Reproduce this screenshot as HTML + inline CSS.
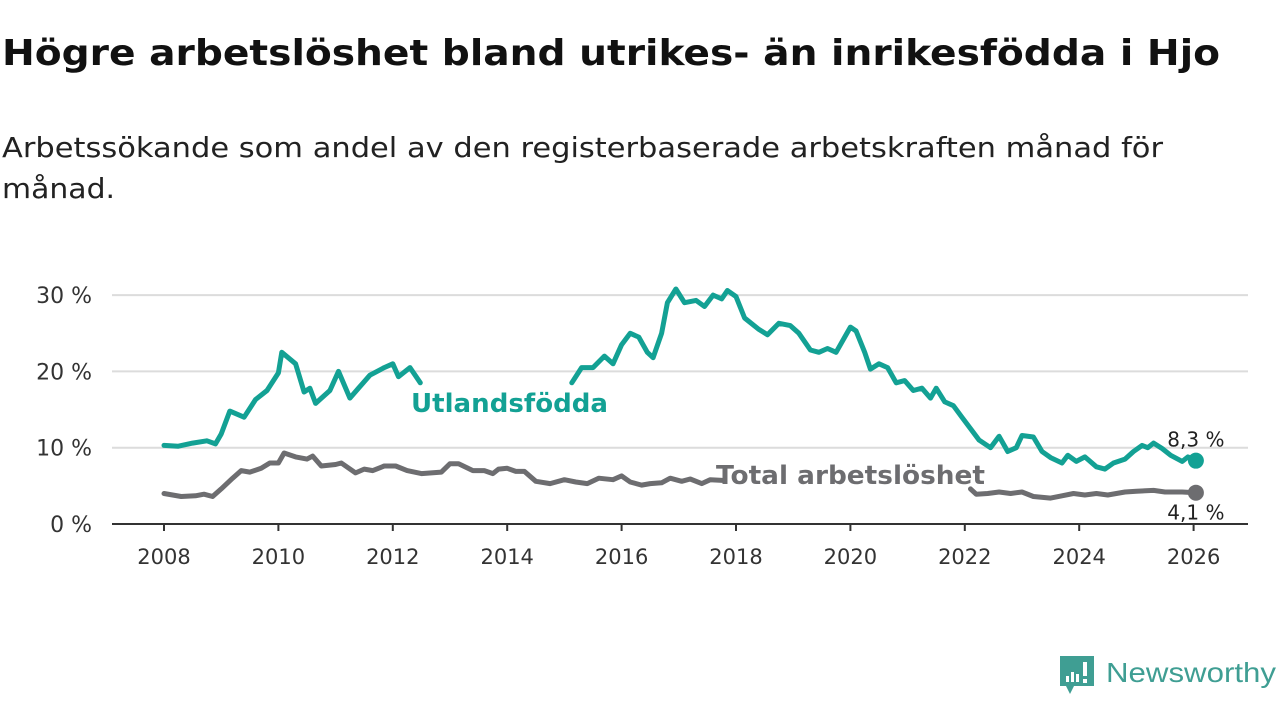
<!DOCTYPE html>
<html><head><meta charset="utf-8">
<style>
body{margin:0;width:1280px;height:720px;background:#fff;overflow:hidden;font-family:"DejaVu Sans","Liberation Sans",sans-serif;}
</style></head>
<body>
<svg id="chart" width="1280" height="720" xmlns="http://www.w3.org/2000/svg" font-family="DejaVu Sans, Liberation Sans, sans-serif">
<text x="2" y="65" font-size="36" font-weight="bold" fill="#111" textLength="1218" lengthAdjust="spacingAndGlyphs">Högre arbetslöshet bland utrikes- än inrikesfödda i Hjo</text>
<text font-size="28" fill="#222"><tspan x="2" y="157" textLength="1161" lengthAdjust="spacingAndGlyphs">Arbetssökande som andel av den registerbaserade arbetskraften månad för</tspan><tspan x="2" y="198" textLength="113" lengthAdjust="spacingAndGlyphs">månad.</tspan></text>
<g id="grid"></g><g id="lines"></g>
<g>
<path d="M1060 656 h34 v30 h-20 l-4 8 l-4 -8 h-6 z" fill="#3f9e93"/>
<rect x="1066" y="676" width="3" height="6" fill="#fff"/><rect x="1071" y="672" width="3" height="10" fill="#fff"/><rect x="1076" y="674" width="3" height="8" fill="#fff"/><rect x="1083" y="662" width="4" height="14" fill="#fff"/><rect x="1083" y="679" width="4" height="4" fill="#fff"/>
<text x="1106" y="682" font-size="28" fill="#3f9e93" font-family="Liberation Sans, sans-serif" textLength="170" lengthAdjust="spacingAndGlyphs">Newsworthy</text>
</g>
</svg>
<script>
const tealYears=[2008,2008.25,2008.5,2008.75,2008.9,2009,2009.15,2009.4,2009.6,2009.8,2010,2010.06,2010.3,2010.45,2010.55,2010.65,2010.9,2011.05,2011.25,2011.4,2011.6,2011.85,2012,2012.1,2012.3,2012.48,null,2015.13,2015.3,2015.5,2015.7,2015.85,2016,2016.15,2016.3,2016.45,2016.55,2016.7,2016.8,2016.95,2017.1,2017.3,2017.45,2017.6,2017.75,2017.85,2018,2018.15,2018.4,2018.55,2018.75,2018.95,2019.1,2019.3,2019.45,2019.6,2019.75,2019.9,2020,2020.1,2020.25,2020.35,2020.5,2020.65,2020.8,2020.95,2021.1,2021.25,2021.4,2021.5,2021.65,2021.8,2021.95,2022.1,2022.25,2022.45,2022.6,2022.75,2022.9,2023,2023.2,2023.35,2023.5,2023.7,2023.8,2023.95,2024.1,2024.3,2024.45,2024.6,2024.8,2024.95,2025.1,2025.2,2025.3,2025.45,2025.6,2025.8,2025.9,2026.04];
const tealValues=[10.3,10.2,10.6,10.9,10.5,11.8,14.8,14.0,16.3,17.5,19.8,22.5,21,17.3,17.8,15.8,17.5,20.0,16.5,17.8,19.5,20.5,21,19.3,20.5,18.5,null,18.5,20.5,20.5,22.0,21,23.5,25,24.5,22.5,21.8,25,29,30.8,29,29.3,28.5,30,29.5,30.6,29.8,27,25.5,24.8,26.3,26,25,22.8,22.5,23,22.5,24.5,25.8,25.3,22.5,20.3,21,20.5,18.5,18.8,17.5,17.8,16.5,17.8,16,15.5,14,12.5,11,10,11.5,9.5,10,11.6,11.4,9.5,8.7,8,9,8.2,8.8,7.5,7.2,8,8.5,9.5,10.3,10,10.6,9.9,9,8.2,8.8,8.3];
const grayYears=[2008,2008.3,2008.55,2008.7,2008.85,2009,2009.2,2009.35,2009.5,2009.7,2009.85,2010,2010.1,2010.3,2010.5,2010.6,2010.75,2011,2011.1,2011.35,2011.5,2011.65,2011.85,2012.05,2012.25,2012.5,2012.85,2013,2013.15,2013.4,2013.6,2013.75,2013.85,2014,2014.15,2014.3,2014.5,2014.75,2015,2015.2,2015.4,2015.6,2015.85,2016,2016.15,2016.35,2016.5,2016.7,2016.85,2017.05,2017.2,2017.4,2017.55,2017.8,null,2022.1,2022.2,2022.4,2022.6,2022.8,2023,2023.2,2023.5,2023.7,2023.9,2024.1,2024.3,2024.5,2024.8,2025,2025.3,2025.5,2025.8,2026.04];
const grayValues=[4.0,3.6,3.7,3.9,3.6,4.6,6.0,7.0,6.8,7.3,8.0,8.0,9.3,8.8,8.5,8.9,7.6,7.8,8.0,6.7,7.2,7.0,7.6,7.6,7.0,6.6,6.8,7.9,7.9,7.0,7.0,6.6,7.2,7.3,6.9,6.9,5.6,5.3,5.8,5.5,5.3,6.0,5.8,6.3,5.5,5.1,5.3,5.4,6,5.6,5.9,5.3,5.8,5.7,null,4.6,3.9,4.0,4.2,4.0,4.2,3.6,3.4,3.7,4.0,3.8,4.0,3.8,4.2,4.3,4.4,4.2,4.2,4.1];
const yTicks=[0,10,20,30];
const xTicks=[2008,2010,2012,2014,2016,2018,2020,2022,2024,2026];
const NS='http://www.w3.org/2000/svg';
const X=y=>164+(y-2008)*57.2;
const Y=v=>524-v*7.63;
function mk(tag,attrs,parent){const e=document.createElementNS(NS,tag);for(const k in attrs)e.setAttribute(k,attrs[k]);parent.appendChild(e);return e;}
const grid=document.getElementById('grid'),lines=document.getElementById('lines');
yTicks.forEach(t=>{
 if(t>0){const g=mk('line',{x1:112,x2:1248,y1:Y(t),y2:Y(t),stroke:'#dcdcdc','stroke-width':2},grid);
 
 }
 const tx=mk('text',{x:92,y:Y(t)+8,'font-size':22,fill:'#333','text-anchor':'end'},grid);
 tx.textContent=t+' %';
 
 
});
const ax=mk('line',{x1:112,x2:1248,y1:524,y2:524,stroke:'#333','stroke-width':2},grid);


xTicks.forEach(t=>{
 const tk=mk('line',{x1:X(t),x2:X(t),y1:524,y2:531,stroke:'#333','stroke-width':2},grid);
 
 
 const tx=mk('text',{x:X(t),y:564,'font-size':21,fill:'#333','text-anchor':'middle'},grid);
 tx.textContent=t;
 
 
});
function path(ys,vs){let d='',pen=false;ys.forEach((y,i)=>{if(y===null||vs[i]===null){pen=false;return;}d+=(pen?'L':'M')+X(y).toFixed(1)+' '+Y(vs[i]).toFixed(1);pen=true;});return d;}
function series(ys,vs,color,name){
 const p=mk('path',{d:path(ys,vs),fill:'none',stroke:color,'stroke-width':5,'stroke-linejoin':'round','stroke-linecap':'round'},lines);
 
 
 const n=ys.length-1;
 const c=mk('circle',{cx:X(ys[n]),cy:Y(vs[n]),r:8,fill:color},lines);
 
 
 return [X(ys[n]),Y(vs[n]),vs[n]];
}
const te=series(tealYears,tealValues,'#13a194','utlandsfodda');
const ge=series(grayYears,grayValues,'#6d6d70','total');
const l1=mk('text',{x:411,y:412,'font-size':26,'font-weight':'bold',fill:'#13a194',textLength:197,lengthAdjust:'spacingAndGlyphs'},lines);
l1.textContent='Utlandsfödda';


const l2=mk('text',{x:716,y:484,'font-size':26,'font-weight':'bold',fill:'#6d6d70',textLength:269,lengthAdjust:'spacingAndGlyphs'},lines);
l2.textContent='Total arbetslöshet';


const v1=mk('text',{x:te[0],y:te[1]-14,'font-size':20,fill:'#222','text-anchor':'middle'},lines);
v1.textContent=String(te[2]).replace('.',',')+' %';


const v2=mk('text',{x:ge[0],y:ge[1]+27,'font-size':20,fill:'#222','text-anchor':'middle'},lines);
v2.textContent=String(ge[2]).replace('.',',')+' %';


</script>
</body></html>
